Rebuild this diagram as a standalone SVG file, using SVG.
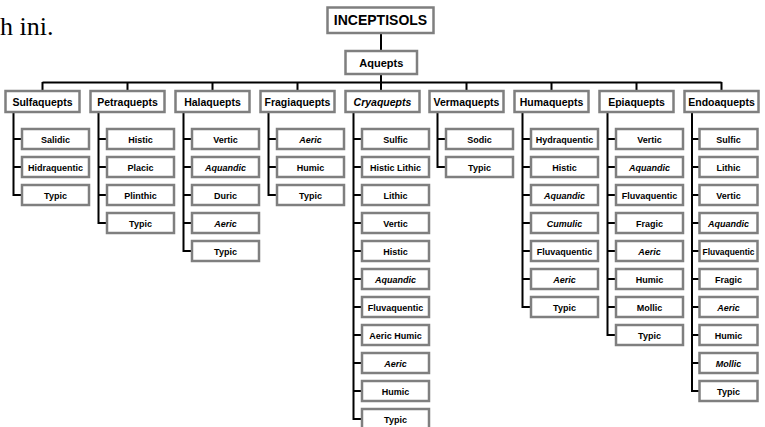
<svg xmlns="http://www.w3.org/2000/svg" width="765" height="427" viewBox="0 0 765 427">
<style>
.b{fill:#fff;stroke:#7f7f7f;stroke-width:2.5}
.w{fill:none;stroke:#000;stroke-width:2}
text{font-family:"Liberation Sans",Arial,sans-serif;font-weight:bold;fill:#000;text-anchor:middle}
.c{font-size:9px}
.p{font-size:10.5px}
.i{font-style:italic}
.doc{font-family:"Liberation Serif","Times New Roman",serif;font-weight:normal;font-size:26px;text-anchor:start}
</style>
<rect width="765" height="427" fill="#fff"/>
<text class="doc" x="0" y="35">h ini.</text>
<g id="connectors">
<path class="w" d="M381 33V51M381 74V82.5M42.5 82.5H721.5M42.5 82V91M127.5 82V91M212.5 82V91M297.5 82V91M381 82V91M466.5 82V91M551.5 82V91M636.5 82V91M721.5 82V91"/>
<path class="w" d="M13.5 112V195H22M13.5 139H22M13.5 167H22"/>
<path class="w" d="M98.5 112V223H107M98.5 139H107M98.5 167H107M98.5 195H107"/>
<path class="w" d="M183.5 112V251H192M183.5 139H192M183.5 167H192M183.5 195H192M183.5 223H192"/>
<path class="w" d="M268.5 112V195H277M268.5 139H277M268.5 167H277"/>
<path class="w" d="M353.5 112V419H362M353.5 139H362M353.5 167H362M353.5 195H362M353.5 223H362M353.5 251H362M353.5 279H362M353.5 307H362M353.5 335H362M353.5 363H362M353.5 391H362"/>
<path class="w" d="M437.5 112V167H446M437.5 139H446"/>
<path class="w" d="M522.5 112V307H531M522.5 139H531M522.5 167H531M522.5 195H531M522.5 223H531M522.5 251H531M522.5 279H531"/>
<path class="w" d="M607.5 112V335H616M607.5 139H616M607.5 167H616M607.5 195H616M607.5 223H616M607.5 251H616M607.5 279H616M607.5 307H616"/>
<path class="w" d="M692 112V391H699.5M692 139H699.5M692 167H699.5M692 195H699.5M692 223H699.5M692 251H699.5M692 279H699.5M692 307H699.5M692 335H699.5M692 363H699.5"/>
</g>
<g id="inceptisols"><rect class="b" x="327.5" y="7.5" width="106" height="25.5"/><text x="380.5" y="25" style="font-size:14px">INCEPTISOLS</text></g>
<g id="aquepts"><rect class="b" x="345.5" y="51" width="71.5" height="23"/><text x="381.25" y="66.5" style="font-size:11px">Aquepts</text></g>
<g id="sulfaquepts"><rect class="b" x="5.5" y="91" width="74" height="21"/><text class="p" x="42.5" y="105.5">Sulfaquepts</text></g>
<g id="petraquepts"><rect class="b" x="90.5" y="91" width="74" height="21"/><text class="p" x="127.5" y="105.5">Petraquepts</text></g>
<g id="halaquepts"><rect class="b" x="175.5" y="91" width="74" height="21"/><text class="p" x="212.5" y="105.5">Halaquepts</text></g>
<g id="fragiaquepts"><rect class="b" x="260.5" y="91" width="74" height="21"/><text class="p" x="297.5" y="105.5">Fragiaquepts</text></g>
<g id="cryaquepts"><rect class="b" x="345.5" y="91" width="74" height="21"/><text class="p i" x="382.5" y="105.5">Cryaquepts</text></g>
<g id="vermaquepts"><rect class="b" x="429.5" y="91" width="74" height="21"/><text class="p" x="466.5" y="105.5">Vermaquepts</text></g>
<g id="humaquepts"><rect class="b" x="514.5" y="91" width="74" height="21"/><text class="p" x="551.5" y="105.5">Humaquepts</text></g>
<g id="epiaquepts"><rect class="b" x="599.5" y="91" width="74" height="21"/><text class="p" x="636.5" y="105.5">Epiaquepts</text></g>
<g id="endoaquepts"><rect class="b" x="684.5" y="91" width="74" height="21"/><text class="p" x="721.5" y="105.5">Endoaquepts</text></g>

<g id="sulf-1"><rect class="b" x="22" y="129" width="67" height="20"/><text class="c" x="55.5" y="142.5">Salidic</text></g>
<g id="sulf-2"><rect class="b" x="22" y="157" width="67" height="20"/><text class="c" x="55.5" y="170.5">Hidraquentic</text></g>
<g id="sulf-3"><rect class="b" x="22" y="185" width="67" height="20"/><text class="c" x="55.5" y="198.5">Typic</text></g>

<g id="petra-1"><rect class="b" x="107" y="129" width="67" height="20"/><text class="c" x="140.5" y="142.5">Histic</text></g>
<g id="petra-2"><rect class="b" x="107" y="157" width="67" height="20"/><text class="c" x="140.5" y="170.5">Placic</text></g>
<g id="petra-3"><rect class="b" x="107" y="185" width="67" height="20"/><text class="c" x="140.5" y="198.5">Plinthic</text></g>
<g id="petra-4"><rect class="b" x="107" y="213" width="67" height="20"/><text class="c" x="140.5" y="226.5">Typic</text></g>

<g id="hala-1"><rect class="b" x="192" y="129" width="67" height="20"/><text class="c" x="225.5" y="142.5">Vertic</text></g>
<g id="hala-2"><rect class="b" x="192" y="157" width="67" height="20"/><text class="c i" x="225.5" y="170.5">Aquandic</text></g>
<g id="hala-3"><rect class="b" x="192" y="185" width="67" height="20"/><text class="c" x="225.5" y="198.5">Duric</text></g>
<g id="hala-4"><rect class="b" x="192" y="213" width="67" height="20"/><text class="c i" x="225.5" y="226.5">Aeric</text></g>
<g id="hala-5"><rect class="b" x="192" y="241" width="67" height="20"/><text class="c" x="225.5" y="254.5">Typic</text></g>

<g id="fragi-1"><rect class="b" x="277" y="129" width="67" height="20"/><text class="c i" x="310.5" y="142.5">Aeric</text></g>
<g id="fragi-2"><rect class="b" x="277" y="157" width="67" height="20"/><text class="c" x="310.5" y="170.5">Humic</text></g>
<g id="fragi-3"><rect class="b" x="277" y="185" width="67" height="20"/><text class="c" x="310.5" y="198.5">Typic</text></g>

<g id="cry-1"><rect class="b" x="362" y="129" width="67" height="20"/><text class="c" x="395.5" y="142.5">Sulfic</text></g>
<g id="cry-2"><rect class="b" x="362" y="157" width="67" height="20"/><text class="c" x="395.5" y="170.5">Histic Lithic</text></g>
<g id="cry-3"><rect class="b" x="362" y="185" width="67" height="20"/><text class="c" x="395.5" y="198.5">Lithic</text></g>
<g id="cry-4"><rect class="b" x="362" y="213" width="67" height="20"/><text class="c" x="395.5" y="226.5">Vertic</text></g>
<g id="cry-5"><rect class="b" x="362" y="241" width="67" height="20"/><text class="c" x="395.5" y="254.5">Histic</text></g>
<g id="cry-6"><rect class="b" x="362" y="269" width="67" height="20"/><text class="c i" x="395.5" y="282.5">Aquandic</text></g>
<g id="cry-7"><rect class="b" x="362" y="297" width="67" height="20"/><text class="c" x="395.5" y="310.5">Fluvaquentic</text></g>
<g id="cry-8"><rect class="b" x="362" y="325" width="67" height="20"/><text class="c" x="395.5" y="338.5">Aeric Humic</text></g>
<g id="cry-9"><rect class="b" x="362" y="353" width="67" height="20"/><text class="c i" x="395.5" y="366.5">Aeric</text></g>
<g id="cry-10"><rect class="b" x="362" y="381" width="67" height="20"/><text class="c" x="395.5" y="394.5">Humic</text></g>
<g id="cry-11"><rect class="b" x="362" y="409" width="67" height="20"/><text class="c" x="395.5" y="422.5">Typic</text></g>

<g id="verm-1"><rect class="b" x="446" y="129" width="67" height="20"/><text class="c" x="479.5" y="142.5">Sodic</text></g>
<g id="verm-2"><rect class="b" x="446" y="157" width="67" height="20"/><text class="c" x="479.5" y="170.5">Typic</text></g>

<g id="huma-1"><rect class="b" x="531" y="129" width="67" height="20"/><text class="c" x="564.5" y="142.5">Hydraquentic</text></g>
<g id="huma-2"><rect class="b" x="531" y="157" width="67" height="20"/><text class="c" x="564.5" y="170.5">Histic</text></g>
<g id="huma-3"><rect class="b" x="531" y="185" width="67" height="20"/><text class="c i" x="564.5" y="198.5">Aquandic</text></g>
<g id="huma-4"><rect class="b" x="531" y="213" width="67" height="20"/><text class="c i" x="564.5" y="226.5">Cumulic</text></g>
<g id="huma-5"><rect class="b" x="531" y="241" width="67" height="20"/><text class="c" x="564.5" y="254.5">Fluvaquentic</text></g>
<g id="huma-6"><rect class="b" x="531" y="269" width="67" height="20"/><text class="c i" x="564.5" y="282.5">Aeric</text></g>
<g id="huma-7"><rect class="b" x="531" y="297" width="67" height="20"/><text class="c" x="564.5" y="310.5">Typic</text></g>

<g id="epi-1"><rect class="b" x="616" y="129" width="67" height="20"/><text class="c" x="649.5" y="142.5">Vertic</text></g>
<g id="epi-2"><rect class="b" x="616" y="157" width="67" height="20"/><text class="c i" x="649.5" y="170.5">Aquandic</text></g>
<g id="epi-3"><rect class="b" x="616" y="185" width="67" height="20"/><text class="c" x="649.5" y="198.5">Fluvaquentic</text></g>
<g id="epi-4"><rect class="b" x="616" y="213" width="67" height="20"/><text class="c" x="649.5" y="226.5">Fragic</text></g>
<g id="epi-5"><rect class="b" x="616" y="241" width="67" height="20"/><text class="c i" x="649.5" y="254.5">Aeric</text></g>
<g id="epi-6"><rect class="b" x="616" y="269" width="67" height="20"/><text class="c" x="649.5" y="282.5">Humic</text></g>
<g id="epi-7"><rect class="b" x="616" y="297" width="67" height="20"/><text class="c" x="649.5" y="310.5">Mollic</text></g>
<g id="epi-8"><rect class="b" x="616" y="325" width="67" height="20"/><text class="c" x="649.5" y="338.5">Typic</text></g>

<g id="endo-1"><rect class="b" x="699.5" y="129" width="58" height="20"/><text class="c" x="728.5" y="142.5">Sulfic</text></g>
<g id="endo-2"><rect class="b" x="699.5" y="157" width="58" height="20"/><text class="c" x="728.5" y="170.5">Lithic</text></g>
<g id="endo-3"><rect class="b" x="699.5" y="185" width="58" height="20"/><text class="c" x="728.5" y="198.5">Vertic</text></g>
<g id="endo-4"><rect class="b" x="699.5" y="213" width="58" height="20"/><text class="c i" x="728.5" y="226.5">Aquandic</text></g>
<g id="endo-5"><rect class="b" x="699.5" y="241" width="58" height="20"/><text class="c" x="728.5" y="254.5" textLength="52" lengthAdjust="spacingAndGlyphs">Fluvaquentic</text></g>
<g id="endo-6"><rect class="b" x="699.5" y="269" width="58" height="20"/><text class="c" x="728.5" y="282.5">Fragic</text></g>
<g id="endo-7"><rect class="b" x="699.5" y="297" width="58" height="20"/><text class="c i" x="728.5" y="310.5">Aeric</text></g>
<g id="endo-8"><rect class="b" x="699.5" y="325" width="58" height="20"/><text class="c" x="728.5" y="338.5">Humic</text></g>
<g id="endo-9"><rect class="b" x="699.5" y="353" width="58" height="20"/><text class="c i" x="728.5" y="366.5">Mollic</text></g>
<g id="endo-10"><rect class="b" x="699.5" y="381" width="58" height="20"/><text class="c" x="728.5" y="394.5">Typic</text></g>
</svg>
